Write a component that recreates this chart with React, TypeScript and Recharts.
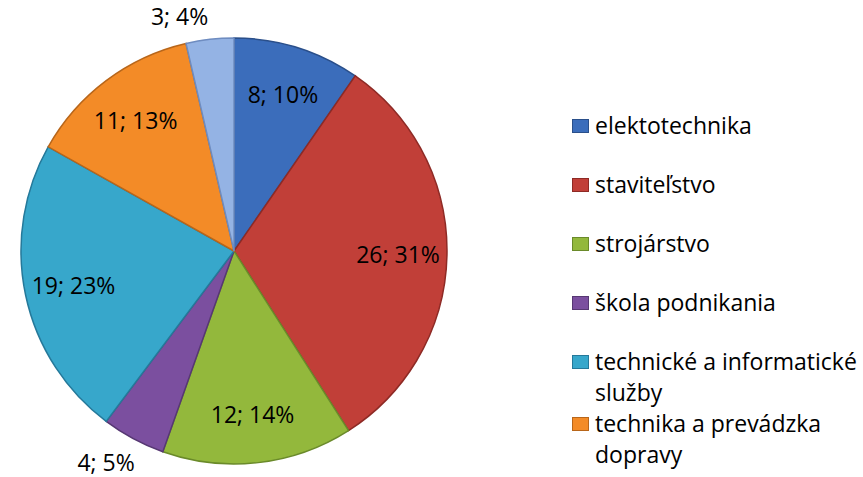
import React from "react";
import { PieChart, Pie, Cell, Legend } from "recharts";

const categories = [
  "elektotechnika",
  "staviteľstvo",
  "strojárstvo",
  "škola podnikania",
  "technické a informatické služby",
  "technika a prevádzka dopravy",
  "ostatné",
];
const counts = [8, 26, 12, 4, 19, 11, 3];
const fills = ["#3b6dbb", "#c13f38", "#93b83c", "#7b4f9f", "#37a7cb", "#f38b27", "#94b3e4"];
const edges = ["#2a4f8a", "#8e2a25", "#6a8a2a", "#573873", "#25799a", "#b8661a", "#6e8cc0"];
// the last slice is not shown in the legend (cut off in the original)
const hiddenFromLegend = ["ostatné"];

const data = categories.map((name, i) => ({ name, value: counts[i] }));

const FONT = "'Open Sans', sans-serif";
const RADIAN = Math.PI / 180;

const renderLabel = (props: any) => {
  const { cx, cy, midAngle, outerRadius, percent, value } = props;
  const cos = Math.cos(-midAngle * RADIAN);
  const sin = Math.sin(-midAngle * RADIAN);
  const text = `${value}; ${Math.round(percent * 100)}%`;
  if (percent < 0.06) {
    const r = outerRadius + 14;
    const x = cx + r * cos + (sin > 0 ? 8 : 0);
    const y = cy + r * sin;
    return (
      <text
        x={x}
        y={y}
        fill="#000"
        fontSize={23}
        fontFamily={FONT}
        textAnchor={cos >= 0 ? "start" : "end"}
        dominantBaseline={sin > 0 ? "hanging" : "auto"}
      >
        {text}
      </text>
    );
  }
  const r = outerRadius * 0.77;
  return (
    <text
      x={cx + r * cos}
      y={cy + r * sin}
      fill="#000"
      fontSize={23}
      fontFamily={FONT}
      textAnchor="middle"
      dominantBaseline="central"
    >
      {text}
    </text>
  );
};

const renderLegend = () => {
  const items = categories.filter((c) => !hiddenFromLegend.includes(c));
  return (
    <div style={{ fontFamily: FONT, fontSize: 23, color: "#000" }}>
      {items.map((name) => {
        const i = categories.indexOf(name);
        return (
          <div
            key={name}
            style={{ display: "flex", alignItems: "flex-start", minHeight: 59, lineHeight: "31px" }}
          >
            <span
              style={{
                display: "inline-block",
                width: 17,
                height: 14,
                marginTop: 9,
                marginRight: 6,
                background: fills[i],
                border: `1px solid ${edges[i]}`,
                boxSizing: "border-box",
                flexShrink: 0,
              }}
            />
            <span style={{ width: 268 }}>{name}</span>
          </div>
        );
      })}
    </div>
  );
};

export default function App() {
  return (
    <div style={{ position: "absolute", left: 0, top: 0, background: "#fff" }}>
      <PieChart width={863} height={477} margin={{ top: 0, right: 0, bottom: 0, left: 0 }}>
        <Pie
          data={data}
          dataKey="value"
          nameKey="name"
          cx={234}
          cy={251}
          outerRadius={213}
          startAngle={90}
          endAngle={-270}
          label={renderLabel}
          labelLine={false}
          isAnimationActive={false}
        >
          {data.map((entry, i) => (
            <Cell key={`cell-${i}`} fill={fills[i]} stroke={edges[i]} strokeWidth={1.5} />
          ))}
        </Pie>
        <Legend
          layout="vertical"
          align="right"
          verticalAlign="top"
          content={renderLegend}
          wrapperStyle={{ position: "absolute", left: 572, top: 110, width: 291 }}
        />
      </PieChart>
    </div>
  );
}
